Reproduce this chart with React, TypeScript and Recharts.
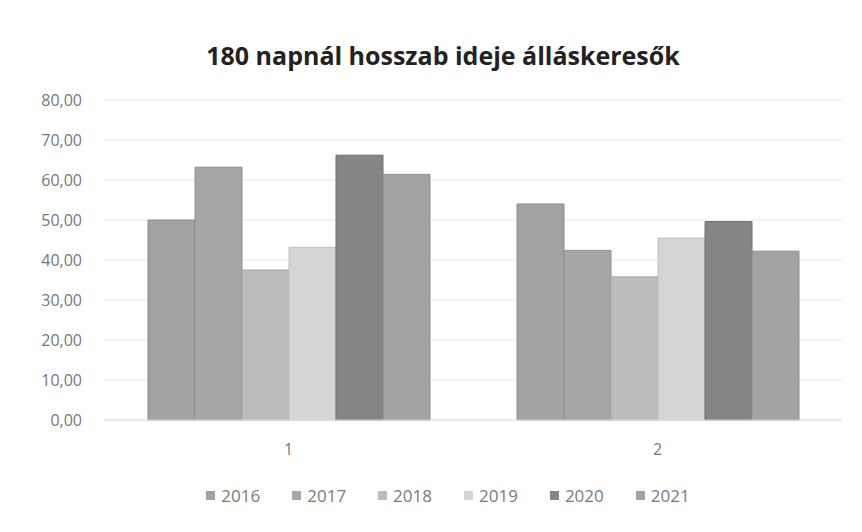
import React from "react";
import { BarChart, Bar, XAxis, YAxis, CartesianGrid, Legend } from "recharts";

const categories = ["1", "2"];
const years = ["2016", "2017", "2018", "2019", "2020", "2021"];
const v2016 = [50.0, 54.0];
const v2017 = [63.2, 42.4];
const v2018 = [37.5, 35.8];
const v2019 = [43.2, 45.5];
const v2020 = [66.2, 49.6];
const v2021 = [61.4, 42.2];
const yTicks = [0, 10, 20, 30, 40, 50, 60, 70, 80];

const colors = ["#a2a2a2", "#a6a6a6", "#bcbcbc", "#d5d5d5", "#858585", "#a3a3a3"];
const strokes = ["#8c8c8c", "#8f8f8f", "#a6a6a6", "#c0c0c0", "#6e6e6e", "#8e8e8e"];

const series = [v2016, v2017, v2018, v2019, v2020, v2021];

const data = categories.map((name, i) => {
  const row: Record<string, string | number> = { name };
  years.forEach((y, j) => {
    row[y] = series[j][i];
  });
  return row;
});

const font = "'Open Sans', 'Liberation Sans', sans-serif";

function LegendRow() {
  return (
    <div style={{ display: "flex", justifyContent: "center", gap: 32, paddingLeft: 34, fontSize: 17, color: "#7a7a7a" }}>
      {years.map((y, j) => (
        <span key={y} style={{ display: "flex", alignItems: "center" }}>
          <span style={{ width: 9, height: 9, background: colors[j], marginRight: 6, display: "inline-block" }} />
          {y}
        </span>
      ))}
    </div>
  );
}

export default function App() {
  return (
    <div style={{ position: "absolute", left: 0, top: 0, width: 862, height: 532, background: "#fff", fontFamily: font }}>
      <div
        style={{
          position: "absolute",
          top: 38,
          left: 12,
          width: 862,
          textAlign: "center",
          fontSize: 25,
          fontWeight: "bold",
          color: "#222",
        }}
      >
        180 napnál hosszab ideje álláskeresők
      </div>
      <BarChart
        width={862}
        height={532}
        data={data}
        margin={{ top: 100, right: 20, left: 0, bottom: 56 }}
        barGap={0}
        barCategoryGap={44}
      >
        <CartesianGrid vertical={false} stroke="#e8e8e8" />
        <XAxis
          dataKey="name"
          axisLine={{ stroke: "#e0e0e0" }}
          tickLine={false}
          tick={{ fill: "#777", fontSize: 16, fontFamily: font }}
          tickMargin={18}
          height={30}
        />
        <YAxis
          domain={[0, 80]}
          ticks={yTicks}
          width={104}
          axisLine={false}
          tickLine={false}
          tickMargin={16}
          tick={{ fill: "#777", fontSize: 16, fontFamily: font }}
          tickFormatter={(v: number) => v.toFixed(2).replace(".", ",")}
        />
        <Legend
          content={() => <LegendRow />}
          wrapperStyle={{ position: "absolute", top: 484, left: 0, width: 862, height: 26 }}
        />
        {years.map((y, j) => (
          <Bar key={y} dataKey={y} fill={colors[j]} stroke={strokes[j]} strokeWidth={1} isAnimationActive={false} />
        ))}
      </BarChart>
    </div>
  );
}
